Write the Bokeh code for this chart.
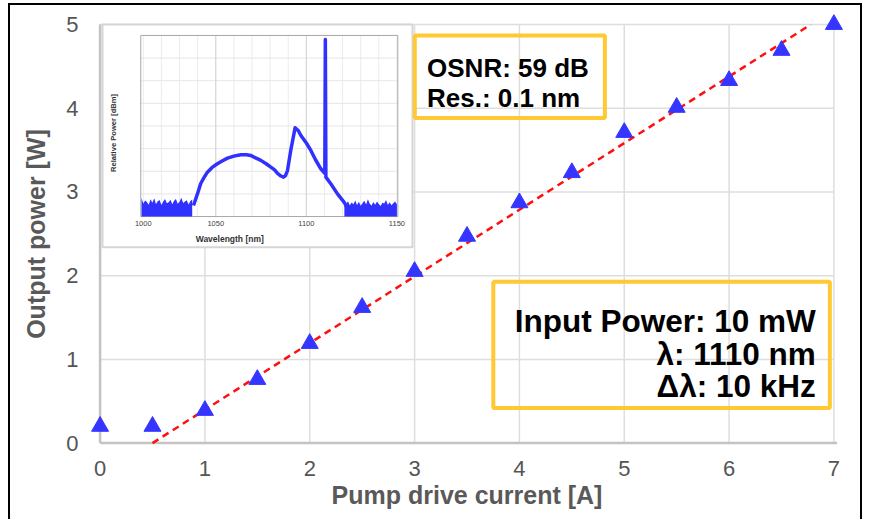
import math
from bokeh.plotting import figure
from bokeh.models import Range1d
from bokeh.core.properties import value
from bokeh.embed import file_html
from bokeh.resources import INLINE

# ---------------- main chart data ----------------
pump_current_a = [0.0, 0.5, 1.0, 1.5, 2.0, 2.5, 3.0, 3.5, 4.0, 4.5, 5.0, 5.5, 6.0, 6.5, 7.0]
output_power_w = [0.20, 0.20, 0.39, 0.76, 1.19, 1.62, 2.05, 2.47, 2.87, 3.23, 3.71, 4.01, 4.33, 4.69, 5.00]
fit_current_a = [0.5, 6.78]
fit_power_w = [0.0, 5.0]
x_ticks = [0, 1, 2, 3, 4, 5, 6, 7]
y_ticks = [0, 1, 2, 3, 4, 5]

# ---------------- inset spectrum data ----------------
spec_wavelength_nm = [1037.7, 1039.9, 1041.7, 1043.5, 1045.4, 1048.0, 1050.9, 1053.5, 1056.5, 1060.0,
                      1063.8, 1067.0, 1069.3, 1072.0, 1074.9, 1078.0, 1080.4, 1082.5, 1084.1, 1086.0,
                      1087.4, 1088.5, 1089.6, 1091.4, 1093.8, 1095.5, 1097.0, 1100.0, 1102.5, 1105.0,
                      1108.0, 1110.2, 1110.5, 1110.8, 1113.5, 1117.2, 1120.9, 1122.8]
spec_power_db = [-75.1, -70.0, -65.4, -62.8, -60.4, -58.3, -56.7, -55.5, -54.2, -53.3,
                 -52.7, -52.7, -53.0, -54.1, -55.2, -56.8, -58.2, -59.4, -60.9, -62.1,
                 -62.6, -61.9, -59.7, -50.8, -40.8, -42.0, -44.2, -47.5, -50.8, -54.8,
                 -58.9, -60.9, -1.8, -62.6, -65.5, -70.0, -73.7, -76.5]
floor_left_nm = [1009, 1010, 1011, 1012, 1013, 1014, 1015, 1016, 1017, 1018, 1019, 1020, 1021, 1022, 1023,
                 1024, 1025, 1026, 1027, 1028, 1029, 1030, 1031, 1032, 1033, 1034, 1035, 1036, 1037]
floor_left_top_db = [-71.8, -74.2, -72.9, -73.6, -74.8, -72.4, -73.9, -71.9, -74.5, -73.2, -72.7, -74.9, -73.4,
                     -72.2, -74.1, -73.7, -72.6, -74.6, -73.0, -72.3, -74.4, -73.5, -71.7, -74.0, -73.3,
                     -72.8, -74.7, -73.1, -72.5]
floor_right_nm = [1121, 1122, 1123, 1124, 1125, 1126, 1127, 1128, 1129, 1130, 1131, 1132, 1133, 1134, 1135,
                  1136, 1137, 1138, 1139, 1140, 1141, 1142, 1143, 1144, 1145, 1146, 1147, 1148, 1149, 1150]
floor_right_top_db = [-72.8, -74.5, -73.2, -75.0, -73.8, -74.6, -72.9, -74.9, -73.5, -75.2, -74.1, -73.0,
                      -74.7, -72.4, -74.3, -75.1, -73.6, -74.8, -73.3, -74.5, -75.3, -73.9, -74.2, -72.7,
                      -74.9, -73.7, -75.0, -74.1, -73.4, -74.6]
inset_grid_db = [-80, -70, -60, -50, -40, -30, -20, -10, 0]
inset_grid_nm = [1010, 1020, 1030, 1040, 1050, 1060, 1070, 1080, 1090, 1100, 1110, 1120, 1130, 1140, 1150]
inset_major_nm = [1050, 1100]
inset_tick_pos_nm = [1010, 1050, 1100, 1150]
inset_tick_labels = ["1000", "1050", "1100", "1150"]

osnr_lines = ["OSNR: 59 dB", "Res.: 0.1 nm"]
input_lines = ["Input Power: 10 mW", "λ: 1110 nm", "Δλ: 10 kHz"]

# ---------------- layout constants ----------------
FONT = "Liberation Sans"
XR = (-0.12, 7.12)
YR = (-0.16, 5.155)
INSET_OUTER = dict(left=0.023, right=2.980, bottom=2.339, top=5.0)
INSET_INNER = dict(left=0.388, right=2.840, bottom=2.706, top=4.869)
INSET_NM = (1008.6, 1150.5)
INSET_DB = (-80.0, 0.0)


def extra_range(main, a0, a1, d0, d1):
    s = (d1 - d0) / (a1 - a0)
    return Range1d(d0 - (a0 - main[0]) * s, d1 + (main[1] - a1) * s)


p = figure(width=854, height=520, x_range=Range1d(*XR), y_range=Range1d(*YR),
           output_backend="svg", toolbar_location=None,
           min_border_left=77, min_border_right=18, min_border_top=6, min_border_bottom=69)
p.styles = {"border": "2px solid black", "margin-left": "8px", "margin-top": "3px"}
p.outline_line_color = None
p.background_fill_color = "white"
p.border_fill_color = "white"
p.xgrid.grid_line_color = None
p.ygrid.grid_line_color = None

p.extra_x_ranges = {"ix": extra_range(XR, INSET_INNER["left"], INSET_INNER["right"], *INSET_NM)}
p.extra_y_ranges = {"iy": extra_range(YR, INSET_INNER["bottom"], INSET_INNER["top"], *INSET_DB)}

for ax in (p.xaxis, p.yaxis):
    ax.axis_line_color = None
    ax.major_tick_line_color = None
    ax.minor_tick_line_color = None
    ax.major_tick_out = 0
    ax.major_label_text_font = FONT
    ax.major_label_text_font_size = "22px"
    ax.major_label_text_color = "#555555"
    ax.axis_label_text_font = FONT
    ax.axis_label_text_font_size = "25px"
    ax.axis_label_text_font_style = "bold"
    ax.axis_label_text_color = "#595959"

p.xaxis.ticker = x_ticks
p.yaxis.ticker = y_ticks
p.xaxis.axis_label = "Pump drive current [A]"
p.yaxis.axis_label = "Output power [W]"
p.xaxis.major_label_standoff = 4
p.xaxis.axis_label_standoff = 2
p.yaxis.major_label_standoff = 9
p.yaxis.axis_label_standoff = 13

# main grid
n_x, n_y = len(x_ticks), len(y_ticks)
p.segment(x0=x_ticks, y0=[y_ticks[0]] * n_x, x1=x_ticks, y1=[y_ticks[-1]] * n_x,
          line_color="#dedede", line_width=1.5)
p.segment(x0=[x_ticks[0]] * n_y, y0=y_ticks, x1=[x_ticks[-1]] * n_y, y1=y_ticks,
          line_color="#dedede", line_width=1.5)
# axis lines
p.segment(x0=[x_ticks[0]], y0=[y_ticks[0]], x1=[x_ticks[0]], y1=[y_ticks[-1]],
          line_color="#c3c3c3", line_width=2.5)
p.segment(x0=[x_ticks[0]], y0=[y_ticks[0]], x1=[x_ticks[-1] + 0.03], y1=[y_ticks[0]],
          line_color="#c3c3c3", line_width=2.5)

# ---------------- inset ----------------
p.quad(left=[INSET_OUTER["left"]], right=[INSET_OUTER["right"]],
       bottom=[INSET_OUTER["bottom"]], top=[INSET_OUTER["top"]],
       fill_color="white", line_color="#d6d6d6", line_width=2)
ng, nh = len(inset_grid_nm), len(inset_grid_db)
p.segment(x0=inset_grid_nm, y0=[INSET_DB[0]] * ng, x1=inset_grid_nm, y1=[INSET_DB[1]] * ng,
          x_range_name="ix", y_range_name="iy", line_color="#ececec", line_width=1)
p.segment(x0=[INSET_NM[0]] * nh, y0=inset_grid_db, x1=[INSET_NM[1]] * nh, y1=inset_grid_db,
          x_range_name="ix", y_range_name="iy", line_color="#e6e6e6", line_width=1)
nm = len(inset_major_nm)
p.segment(x0=inset_major_nm, y0=[INSET_DB[0]] * nm, x1=inset_major_nm, y1=[INSET_DB[1]] * nm,
          x_range_name="ix", y_range_name="iy", line_color="#d2d2d2", line_width=1)
p.quad(left=[INSET_NM[0]], right=[INSET_NM[1]], bottom=[INSET_DB[0]], top=[INSET_DB[1]],
       x_range_name="ix", y_range_name="iy", fill_color=None, line_color="#a8a8a8", line_width=1)

blue_spec = "#3030ff"
p.varea(x=floor_left_nm, y1=[INSET_DB[0]] * len(floor_left_nm), y2=floor_left_top_db,
        x_range_name="ix", y_range_name="iy", fill_color=blue_spec)
p.varea(x=floor_right_nm, y1=[INSET_DB[0]] * len(floor_right_nm), y2=floor_right_top_db,
        x_range_name="ix", y_range_name="iy", fill_color=blue_spec)
p.line(x=spec_wavelength_nm, y=spec_power_db, x_range_name="ix", y_range_name="iy",
       line_color=blue_spec, line_width=3.5, line_join="round")

p.text(x=inset_tick_pos_nm, y=[INSET_DB[0]] * len(inset_tick_pos_nm), text=inset_tick_labels,
       x_range_name="ix", y_range_name="iy", y_offset=4,
       text_font=value(FONT), text_font_size="7.5px", text_color="#444444",
       text_align="center", text_baseline="top")
p.text(x=[1.237], y=[2.437], text=["Wavelength [nm]"],
       text_font=value(FONT), text_font_size="8.5px", text_font_style="bold",
       text_color="#333333", text_align="center", text_baseline="middle")
p.text(x=[0.126], y=[3.704], text=["Relative Power [dBm]"], angle=math.pi / 2,
       text_font=value(FONT), text_font_size="7.6px", text_font_style="bold",
       text_color="#333333", text_align="center", text_baseline="middle")

# ---------------- main series ----------------
p.line(x=fit_current_a, y=fit_power_w, line_color="#ff1010", line_width=2.5, line_dash="7 5")
p.scatter(x=pump_current_a, y=output_power_w, marker="triangle", size=17,
          fill_color="#3535ff", line_color="#3535ff")

# ---------------- annotation boxes ----------------
p.quad(left=[3.002], right=[4.815], bottom=[3.883], top=[4.869],
       fill_color=None, line_color="#FFC933", line_width=4)
p.text(x=[3.119, 3.119], y=[4.480, 4.123], text=osnr_lines,
       text_font=value(FONT), text_font_size="26px", text_font_style="bold",
       text_color="black", text_align="left", text_baseline="alphabetic")

p.quad(left=[3.751], right=[6.961], bottom=[0.418], top=[1.926],
       fill_color=None, line_color="#FFC933", line_width=4)
p.text(x=[6.827, 6.827, 6.827], y=[1.464, 1.066, 0.687], text=input_lines,
       text_font=value(FONT), text_font_size="31.5px", text_font_style="bold",
       text_color="black", text_align="right", text_baseline="alphabetic")

open("out.html", "w").write(file_html(p, INLINE))
